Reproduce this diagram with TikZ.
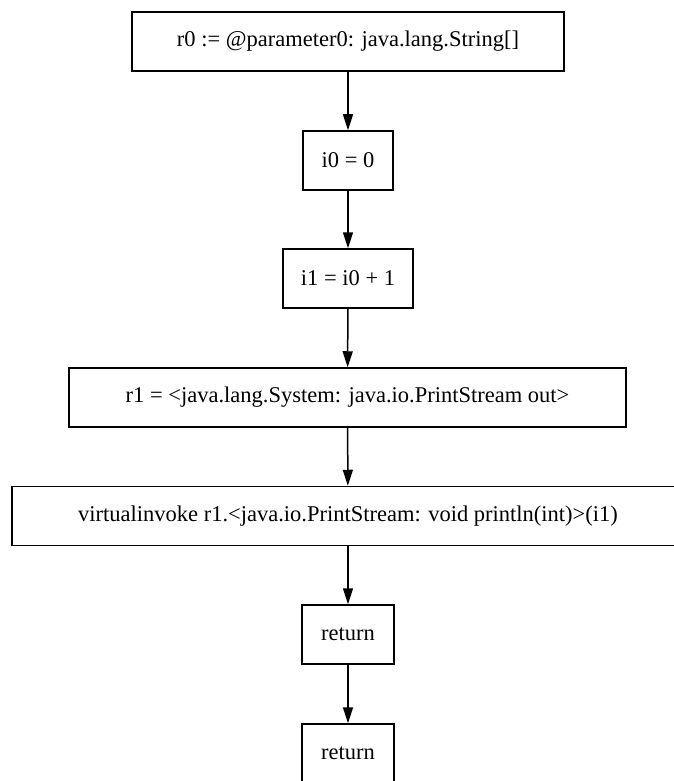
\documentclass[tikz,border=0pt]{standalone}
\usepackage{fontspec}
\setmainfont{Liberation Serif}
\usetikzlibrary{arrows.meta}
\begin{document}
\begin{tikzpicture}[x=1pt,y=-1pt,
  stmt/.style={draw, line width=1.5pt, rectangle, inner sep=0pt,
    minimum height=59pt, font=\fontsize{22.5}{26}\selectfont},
  flow/.style={line width=1.5pt, -{Triangle[length=16pt,width=10pt]}}]
  \useasboundingbox (0,0) rectangle (674,781);
  % statement boxes, top to bottom
  \node[stmt, minimum width=432pt] (s1) at (348,41.5) {r0 := @parameter0: java.lang.String[]};
  \node[stmt, minimum width=90pt]  (s2) at (348,160.5) {i0 = 0};
  \node[stmt, minimum width=130pt] (s3) at (348,278.5) {i1 = i0 + 1};
  \node[stmt, minimum width=557pt] (s4) at (347.5,397.5) {r1 = <java.lang.System: java.io.PrintStream out>};
  \node[stmt, minimum width=672pt] (s5) at (348,516) {virtualinvoke r1.<java.io.PrintStream: void println(int)>(i1)};
  \node[stmt, minimum width=92pt]  (s6) at (348,634.5) {return};
  \node[stmt, minimum width=92pt]  (s7) at (348,753.5) {return};
  % control flow edges
  \draw[flow] (s1) -- (s2);
  \draw[flow] (s2) -- (s3);
  \draw[flow] (s3) -- (s4);
  \draw[flow] (s4) -- (s5);
  \draw[flow] (s5) -- (s6);
  \draw[flow] (s6) -- (s7);
\end{tikzpicture}
\end{document}
